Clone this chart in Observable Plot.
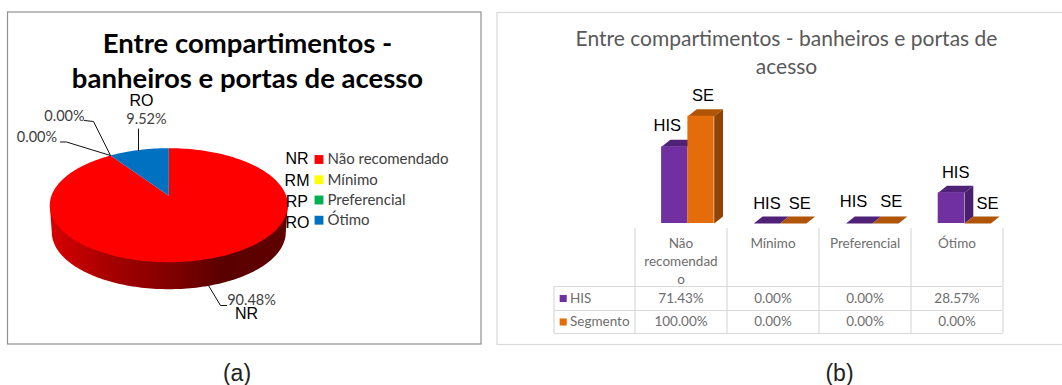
<!DOCTYPE html>
<html><head><meta charset="utf-8">
<script src="https://cdn.jsdelivr.net/npm/d3@7"></script>
<script src="https://cdn.jsdelivr.net/npm/@observablehq/plot@0.6"></script>
<style>html,body{margin:0;padding:0;background:#fff}#page{position:relative;width:1062px;height:385px;overflow:hidden}</style>
</head><body><div id="page"></div>
<script>
// ---- data ----
const pieCodes = ["NR","RM","RP","RO"];
const pieCategories = ["Não recomendado","Mínimo","Preferencial","Ótimo"];
const pieValues = [90.48,0,0,9.52];
const pieColors = ["#ff0000","#ffff00","#00b050","#0070c0"];
const barCategories = ["Não recomendado","Mínimo","Preferencial","Ótimo"];
const headerLabels = ["Não\nrecomendad\no","Mínimo","Preferencial","Ótimo"];
const hisValues = [71.43,0,0,28.57];
const segValues = [100,0,0,0];

// ---- layout ----
const ARIAL = "Liberation Sans", CAL = "Lato";
const P = {cx:168.3, cy:204.7, rx:119, ry:57, apexY:195.3, wallCy:231.7, wallRx:117, warp:0.856};
const base = {margin:0, x:{axis:null}, y:{axis:null}};
const page = document.getElementById("page");
function place(svg,left){svg.style.position="absolute";svg.style.left=left+"px";svg.style.top="0";svg.style.background="transparent";page.appendChild(svg);}

// ---- panel (a): pie ----
const arcs = d3.pie().sort(null).value((d,i)=>pieValues[i])(pieValues.map((d,i)=>i));
const warpA = a => 2*Math.PI-(2*Math.PI-a)*P.warp;
const rim = a => ({x:P.cx+P.rx*Math.sin(a), y:P.cy-P.ry*Math.cos(a)});
function slicePoly(arc,i){
  const a0=i===0?arc.startAngle:warpA(arc.startAngle), a1=warpA(arc.endAngle), pts=[{x:P.cx,y:P.apexY}];
  const n=Math.max(2,Math.ceil((a1-a0)*40));
  for(let k=0;k<=n;k++) pts.push(rim(a0+(a1-a0)*k/n));
  return pts.map(p=>({...p,code:pieCodes[i],fill:pieColors[i]}));
}
const slicePts = arcs.flatMap((a,i)=>a.value>0?slicePoly(a,i):[]);
const wallPts = [];
wallPts.push({x:P.cx-P.rx,y:P.cy});
for(let k=0;k<=120;k++){const t=Math.PI*k/120;wallPts.push({x:P.cx-P.wallRx*Math.cos(t),y:P.wallCy+P.ry*Math.sin(t)});}
wallPts.push({x:P.cx+P.rx,y:P.cy});

const rimOther = rim(warpA(arcs[3].startAngle));
const leaders = [
  {k:"RM",pts:[[60,141.5],[66,141.5],[rimOther.x,rimOther.y]]},
  {k:"RP",pts:[[84,120],[93,121],[rimOther.x,rimOther.y]]},
  {k:"RO",pts:[[138,128.5],[138,150]]},
  {k:"NR",pts:[[208,285],[220,305],[226,305]]}
].flatMap(l=>l.pts.map(p=>({k:l.k,x:p[0],y:p[1]})));
const fmt = v => v.toFixed(2)+"%";
const pieLabelPos = {NR:[251,300],RM:[36.5,137],RP:[64,116],RO:[146,119]};
const pieLabels = pieCodes.map((c,i)=>({t:fmt(pieValues[i]),x:pieLabelPos[c][0],y:pieLabelPos[c][1]}));
const codeOnPie = [{t:"RO",x:141,y:100.5},{t:"NR",x:246,y:313.5}];
const legendY = [159,179.3,199.5,219.7];
const legendCodeY = [158,180.5,201,222];
const legendCodeX = [308,309,307.5,309];
const legend = pieCategories.map((c,i)=>({c,code:pieCodes[i],color:pieColors[i],y:legendY[i],cy:legendCodeY[i],cx:legendCodeX[i]}));

const defs = () => {
  const d = d3.create("svg:defs");
  const g = d.append("linearGradient").attr("id","wallGrad").attr("x1",0).attr("x2",1).attr("y1",0).attr("y2",0);
  [[0,"#d80000"],[.24,"#a80000"],[.52,"#800000"],[.72,"#5a0000"],[1,"#600000"]].forEach(([o,c])=>g.append("stop").attr("offset",o).attr("stop-color",c));
  return d.node();
};

place(Plot.plot({...base,width:490,height:385,
  x:{axis:null,domain:[0,490],range:[0,490]},
  y:{axis:null,domain:[0,385],range:[0,385]},
  color:{type:"identity"},
  marks:[
    defs,
    Plot.rect([{x1:7.5,x2:481,y1:12,y2:344}],{x1:"x1",x2:"x2",y1:"y1",y2:"y2",fill:"white",stroke:"#8f8f8f",strokeWidth:1.2}),
    Plot.text(["Entre compartimentos -\nbanheiros e portas de acesso"],{x:()=>247,y:()=>59,text:d=>d,fontFamily:CAL,fontWeight:700,fontSize:27.5,lineHeight:1.28,fill:"black"}),
    Plot.line(wallPts,{x:"x",y:"y",fill:"url(#wallGrad)",stroke:"none"}),
    Plot.line(slicePts,{x:"x",y:"y",z:"code",fill:"fill",stroke:"none"}),
    Plot.line(leaders,{x:"x",y:"y",z:"k",stroke:"#111",strokeWidth:1}),
    Plot.text(pieLabels,{x:"x",y:"y",text:"t",fontFamily:CAL,fontSize:14.5,fill:"#404040"}),
    Plot.text(codeOnPie,{x:"x",y:"y",text:"t",fontFamily:ARIAL,fontSize:16,fill:"black"}),
    Plot.text(legend,{x:"cx",y:"cy",text:"code",textAnchor:"end",fontFamily:ARIAL,fontSize:16,fill:"black"}),
    Plot.dot(legend,{x:()=>318.5,y:"y",symbol:"square",r:5,fill:"color"}),
    Plot.text(legend,{x:()=>327,y:"y",text:"c",textAnchor:"start",fontFamily:CAL,fontSize:15,fill:"#404040"}),
    Plot.text(["(a)"],{x:()=>236.5,y:()=>373,text:d=>d,fontFamily:ARIAL,fontSize:23,fill:"#222"})
  ]}),0);

// ---- panel (b): 3-D bars ----
const LEFT=490, W=572, H=385;
const unit=92.2, x0=171.1;            // px per category, px to first category
const yZero=223, pxPct=1.073;         // baseline px, px per percent
const barW=26.3/unit;
const depX=8.8/unit, depY=7/pxPct;
const barsOf=(vals,name,idx,top,side,front)=>vals.map((v,i)=>{
  const x1=i+idx*barW, x2=x1+barW;
  return {name,cat:barCategories[i],v,i,x1,x2,top,side,front};
});
const hisBars=barsOf(hisValues,"HIS",0,"#4f2278","#4a1f70","#7030a0");
const segBars=barsOf(segValues,"SE",1,"#b05508","#8f4405","#e46c0a");
const faces=bars=>bars.flatMap(b=>[
  ...[[b.x1,b.v],[b.x1+depX,b.v+depY],[b.x2+depX,b.v+depY],[b.x2,b.v]].map(p=>({id:b.i+"t",x:p[0],y:p[1],c:b.top})),
  ...(b.v>0?[[b.x2,0],[b.x2+depX,depY],[b.x2+depX,b.v+depY],[b.x2,b.v]].map(p=>({id:b.i+"s",x:p[0],y:p[1],c:b.side})):[])
]);
const hisDy=[-21,-20,-22,-20], segDy=[-20,-20,-22,-20];
const hisDx=[-7.5,0,-5.6,4.3], segDx=[2,6.4,5.8,9.9];
const labelsOf=(bars,dx,dy)=>bars.map((b,i)=>({t:b.name,x:(b.x1+b.x2)/2,y:b.v,dx:dx[i],dy:dy[i]}));
const barLabels=[...labelsOf(hisBars,hisDx,hisDy),...labelsOf(segBars,segDx,segDy)];
const labelMark=d=>Plot.text([d],{x:"x",y:"y",text:"t",dx:d.dx,dy:d.dy,fontFamily:ARIAL,fontSize:16.5,fill:"black"});

place(Plot.plot({...base,width:W,height:H,
  x:{axis:null,domain:[-x0/unit,(W-x0)/unit],range:[0,W]},
  y:{axis:null,domain:[-(H-yZero)/pxPct,yZero/pxPct],range:[H,0]},
  color:{type:"identity"},
  marks:[
    Plot.frame({stroke:"#d9d9d9",strokeWidth:1.2,insetLeft:6.5,insetTop:12,insetBottom:41,insetRight:-3}),
    Plot.text(["Entre compartimentos - banheiros e portas de\nacesso"],{frameAnchor:"top",dx:10,dy:26.5,text:d=>d,lineAnchor:"top",fontFamily:CAL,fontSize:21,lineHeight:1.3,fill:"#595959"}),
    Plot.line(faces(hisBars),{x:"x",y:"y",z:"id",fill:"c",stroke:"none"}),
    Plot.rect(hisBars,{x1:"x1",x2:"x2",y1:()=>0,y2:"v",fill:"front"}),
    Plot.line(faces(segBars),{x:"x",y:"y",z:"id",fill:"c",stroke:"none"}),
    Plot.rect(segBars,{x1:"x1",x2:"x2",y1:()=>0,y2:"v",fill:"front"}),
    ...barLabels.map(labelMark)
  ]}),LEFT);

// ---- panel (b): data table ----
const colW=92, colX0=634.5;
const rowEdges=[228,286,310,333];
const tableRows=[{name:"HIS",color:"#7030a0",vals:hisValues,y:298},{name:"Segmento",color:"#e46c0a",vals:segValues,y:321.5}];
const cols=d3.range(5);
const cells=tableRows.flatMap(r=>r.vals.map((v,i)=>({t:fmt(v),c:i+.5,y:r.y})));
const grid="#d9d9d9", tableText="#6e6e6e";
place(Plot.plot({...base,width:W,height:H,
  x:{axis:null,domain:[-(colX0-LEFT)/colW,(W-(colX0-LEFT))/colW],range:[0,W]},
  y:{axis:null,domain:[0,H],range:[0,H]},
  marks:[
    Plot.ruleX(cols,{x:d=>d,y1:()=>rowEdges[0],y2:()=>rowEdges[3],stroke:grid,strokeWidth:1.2}),
    Plot.ruleX([-81/colW],{x:d=>d,y1:()=>rowEdges[1],y2:()=>rowEdges[3],stroke:grid,strokeWidth:1.2}),
    Plot.ruleY(rowEdges.slice(1),{y:d=>d,x1:()=>-81/colW,x2:()=>4,stroke:grid,strokeWidth:1.2}),
    Plot.text(headerLabels,{x:(d,i)=>i+.5,y:()=>235,text:d=>d,lineAnchor:"top",lineHeight:1.33,fontFamily:CAL,fontSize:13.5,fill:tableText}),
    Plot.text(cells,{x:"c",y:"y",text:"t",fontFamily:CAL,fontSize:13.5,fill:tableText}),
    Plot.dot(tableRows,{x:()=>-71.8/colW,y:"y",symbol:"square",r:4,fill:"color"}),
    Plot.text(tableRows,{x:()=>-65/colW,y:"y",text:"name",textAnchor:"start",fontFamily:CAL,fontSize:13.5,fill:tableText}),
    Plot.text(["(b)"],{x:()=>(839-colX0)/colW,y:()=>373,text:d=>d,fontFamily:ARIAL,fontSize:23,fill:"#222"})
  ]}),LEFT);
</script></body></html>
